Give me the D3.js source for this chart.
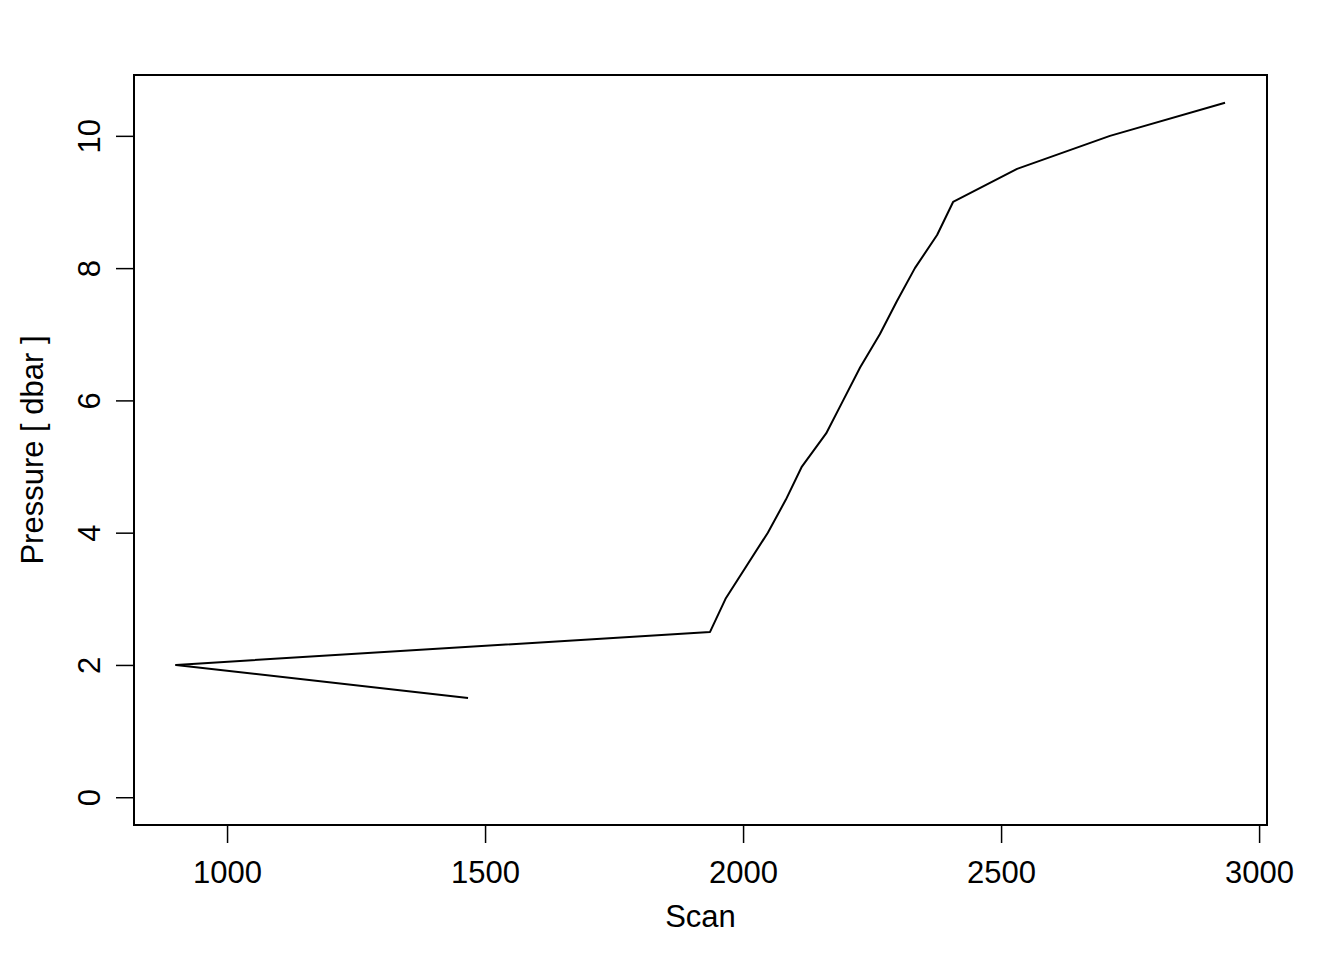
<!DOCTYPE html>
<html>
<head>
<meta charset="utf-8">
<script src="https://cdn.jsdelivr.net/npm/d3@7"></script>
<style>
  body { margin: 0; background: #fff; }
  text { font-family: "Liberation Sans", Arial, Helvetica, sans-serif; }
</style>
</head>
<body>
<script>
'use strict';

// scan number and pressure
const scan = [1467, 901, 1936, 1966, 2048, 2083, 2114, 2161, 2194, 2227, 2265, 2298, 2333, 2376, 2407, 2531, 2711, 2934];
const pressure = [1.5, 2.0, 2.5, 3.0, 4.0, 4.5, 5.0, 5.5, 6.0, 6.5, 7.0, 7.5, 8.0, 8.5, 9.0, 9.5, 10.0, 10.5];
const xTicks = [1000, 1500, 2000, 2500, 3000];
const yTicks = [0, 2, 4, 6, 8, 10];
const yLimits = [0, 10.5];

(function () {
  const width = 1344, height = 960;
  const box = { left: 134, right: 1267, top: 75, bottom: 825 };
  const fontSize = 31;
  const tickLen = 18;

  let svg = d3.select('body').append('svg')
    .attr('width', width)
    .attr('height', height);

  // R style 4% padding on both ends
  function padded(lo, hi) {
    let d = (hi - lo) * 0.04;
    return [lo - d, hi + d];
  }

  let xScale = d3.scaleLinear()
    .domain(padded(d3.min(scan), d3.max(scan)))
    .range([box.left, box.right]);

  let yScale = d3.scaleLinear()
    .domain(padded(yLimits[0], yLimits[1]))
    .range([box.bottom, box.top]);

  // x axis
  let xAxis = d3.axisBottom(xScale)
    .tickValues(xTicks)
    .tickSizeInner(tickLen)
    .tickSizeOuter(0)
    .tickPadding(0)
    .tickFormat(d3.format('d'));
  let gx = svg.append('g')
    .attr('transform', `translate(0, ${box.bottom})`)
    .call(xAxis);
  gx.select('.domain').remove();
  gx.selectAll('.tick line').attr('stroke', '#000').attr('stroke-width', 1.5);
  gx.selectAll('.tick text')
    .attr('y', 58)
    .attr('dy', null)
    .attr('fill', '#000')
    .style('font-size', fontSize + 'px')
    .style('font-family', '"Liberation Sans", Arial, sans-serif');

  // y axis, labels turned like R default
  let yAxis = d3.axisLeft(yScale)
    .tickValues(yTicks)
    .tickSizeInner(tickLen)
    .tickSizeOuter(0)
    .tickPadding(0);
  let gy = svg.append('g')
    .attr('transform', `translate(${box.left}, 0)`)
    .call(yAxis);
  gy.select('.domain').remove();
  gy.selectAll('.tick line').attr('stroke', '#000').attr('stroke-width', 1.5);
  gy.selectAll('.tick text')
    .attr('x', null)
    .attr('dy', null)
    .attr('transform', 'translate(-34, 0) rotate(-90)')
    .attr('text-anchor', 'middle')
    .attr('fill', '#000')
    .style('font-size', fontSize + 'px')
    .style('font-family', '"Liberation Sans", Arial, sans-serif');

  // the line
  let line = d3.line()
    .x((d) => xScale(d[0]))
    .y((d) => yScale(d[1]));

  svg.append('path')
    .datum(d3.zip(scan, pressure))
    .attr('d', line)
    .attr('fill', 'none')
    .attr('stroke', '#000')
    .attr('stroke-width', 2)
    .attr('stroke-linejoin', 'round');

  // plot box
  svg.append('rect')
    .attr('x', box.left)
    .attr('y', box.top)
    .attr('width', box.right - box.left)
    .attr('height', box.bottom - box.top)
    .attr('fill', 'none')
    .attr('stroke', '#000')
    .attr('stroke-width', 2);

  // labels
  svg.append('text')
    .attr('x', (box.left + box.right) / 2)
    .attr('y', 927)
    .attr('text-anchor', 'middle')
    .style('font-size', fontSize + 'px')
    .text('Scan');

  svg.append('text')
    .attr('transform', `translate(43, ${(box.top + box.bottom) / 2}) rotate(-90)`)
    .attr('text-anchor', 'middle')
    .style('font-size', fontSize + 'px')
    .text('Pressure [ dbar ]');
})();
</script>
</body>
</html>
